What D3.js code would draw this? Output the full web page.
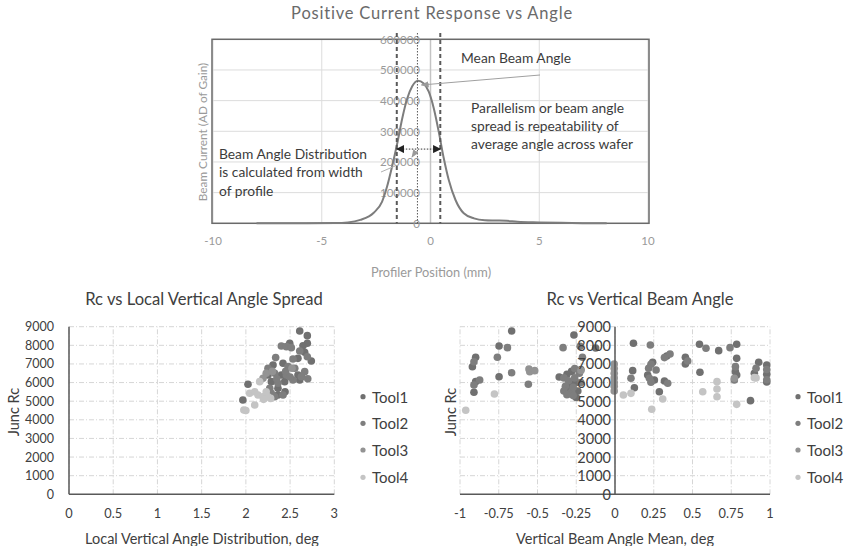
<!DOCTYPE html>
<html>
<head>
<meta charset="utf-8">
<script src="https://cdn.jsdelivr.net/npm/d3@7/dist/d3.min.js"></script>
<style>
  body { margin: 0; background: #fff; }
  svg { display: block; font-family: Lato, "Open Sans", sans-serif; }
</style>
</head>
<body>
<svg id="chart" width="851" height="546"></svg>
<script>
// ---- Beam profile (top chart) ----
const profilePos = [-8, -6, -4.4, -3.8, -3.23, -2.61, -2.23, -2.0, -1.77, -1.53, -1.3, -1.07, -0.84, -0.58, -0.31, -0.08, 0.15, 0.38, 0.61, 0.84, 1.15, 1.53, 2.0, 2.5, 3.0, 3.5, 4.0, 5.0, 6.0, 7.0, 8.1];
const profileCurrent = [0, 300, 1000, 3000, 11000, 34500, 70000, 119000, 184000, 260000, 342000, 407000, 447000, 465000, 456000, 429000, 375000, 298000, 212000, 141000, 76000, 32600, 16000, 10000, 9000, 8000, 5000, 3000, 1500, 500, 0];
const profileXTicks = [-10, -5, 0, 5, 10];
const profileYTicks = [0, 100000, 200000, 300000, 400000, 500000, 600000];
const meanAngle = -0.6;
const widthEdges = [-1.55, 0.45];
const widthLevel = 242000;

// ---- Rc vs local vertical angle spread ----
const spreadTool1 = [[2.609,8770],[2.695,8520],[2.496,8110],[2.695,8110],[2.646,7980],[2.665,7625],[2.74,7160],[2.589,7300],[2.307,6945],[2.42,7035],[2.25,6405],[2.401,6405],[2.589,6405],[2.288,6050],[2.439,6050],[2.609,6140],[2.024,5910],[2.363,5695],[2.363,5335],[2.443,5510],[1.966,5065],[2.63,6315]];
const spreadTool2 = [[2.401,7965],[2.458,7930],[2.514,7875],[2.609,7695],[2.695,7390],[2.533,7265],[2.337,7340],[2.25,6765],[2.477,6855],[2.553,6765],[2.665,6585],[2.326,6500],[2.458,6405],[2.627,6315],[2.363,5960],[2.533,6140],[2.27,5695],[2.288,5425],[2.326,5240],[2.42,5330],[2.7,6200],[2.35,6200],[2.45,6600],[2.5,6300]];
const spreadTool3 = [[2.522,6770],[2.194,6230],[2.23,6500],[2.3,6600]];
const spreadTool4 = [[2.156,6050],[2.043,5425],[2.137,5335],[2.194,5240],[2.25,5240],[2.1,5510],[2.23,5510],[2.1,4795],[1.977,4525],[2.0,4500],[2.2,5100],[2.28,5150]];
const spreadXTicks = [0, 0.5, 1, 1.5, 2, 2.5, 3];

// ---- Rc vs vertical beam angle mean ----
const meanTool1 = [[-0.667,8770],[-0.748,7965],[-0.899,7360],[-0.92,6850],[-0.748,6315],[-0.899,6050],[-0.91,5480],[-0.265,8555],[-0.125,7860],[-0.36,6300],[-0.31,6450],[-0.29,5950],[-0.3,5650],[-0.3,5400],[-0.25,5200],[-0.25,6000],[-0.28,6600],[-0.22,6700],[-0.24,5550],[0.119,8110],[0.545,8055],[0.669,7715],[0.785,8055],[0.334,7430],[0.454,7360],[0.454,7000],[0.114,6640],[0.125,5725],[0.243,7090],[0.211,6405],[0.254,6140],[0.319,6085],[0.286,5510],[0.548,6550],[0.785,7300],[0.777,6585],[0.785,6405],[0.874,5030],[0.927,7090],[0.899,6500],[0.979,6945],[0.979,6450],[0.979,6030]];
const meanTool2 = [[-0.694,7875],[-0.91,7120],[-0.759,7360],[-0.667,6530],[-0.873,6140],[-0.91,5870],[-0.335,7875],[-0.21,7360],[-0.225,7950],[-0.33,6250],[-0.3,6100],[-0.32,5800],[-0.28,5500],[-0.27,5300],[-0.27,5750],[-0.26,6250],[-0.26,6750],[-0.23,6500],[-0.33,5550],[-0.31,5350],[-0.22,6000],[-0.559,5910],[0.228,8020],[0.587,7840],[0.742,7875],[0.355,7535],[0.319,7340],[0.469,7160],[0.103,6230],[0.232,6980],[0.217,6765],[0.222,6230],[0.232,6015],[0.265,6675],[0.34,5960],[0.777,6855],[0.77,6140],[0.91,6765],[0.979,6700],[0.979,6150]];
const meanTool3 = [[-0.555,6730],[-0.55,6585],[-0.518,6640],[-0.005,7000],[-0.005,6750],[-0.005,6500],[-0.005,6250],[-0.005,6000],[-0.005,5800],[-0.005,5550],[0.77,6230],[-0.22,6650]];
const meanTool4 = [[-0.778,5385],[-0.963,4510],[0.054,5330],[0.103,5420],[0.308,5120],[0.237,4565],[0.566,5510],[0.658,6050],[0.658,5655],[0.658,5240],[0.785,4830],[0.899,6265],[0.91,6250]];
const meanXTicks = [-1, -0.75, -0.5, -0.25, 0, 0.25, 0.5, 0.75, 1];
const meanXLabels = ["-1", "-0.75", "-0.5", "-0.25", "0", "0.25", "0.5", "0.75", "1"];

const rcTicks = [0, 1000, 2000, 3000, 4000, 5000, 6000, 7000, 8000, 9000];
const toolNames = ["Tool1", "Tool2", "Tool3", "Tool4"];
const toolColors = ["#707070", "#7e7e7e", "#939393", "#c4c4c4"];

const svg = d3.select("#chart");

// ================= Top: beam profile =================
(function () {
  const x = d3.scaleLinear().domain([-10, 10]).range([213, 648]);
  const y = d3.scaleLinear().domain([0, 600000]).range([223.3, 39.3]);
  const g = svg.append("g");

  g.append("text").attr("x", 432).attr("y", 13).attr("text-anchor", "middle")
    .attr("dominant-baseline", "central").attr("font-size", 16.5).attr("fill", "#6a6a6a")
    .attr("letter-spacing", 0.8)
    .text("Positive Current Response vs Angle");

  // gridlines
  g.selectAll(".hg").data(profileYTicks).enter().append("line")
    .attr("x1", x(-10)).attr("x2", x(10)).attr("y1", d => y(d)).attr("y2", d => y(d))
    .attr("stroke", "#dcdcdc").attr("stroke-width", 1);
  g.selectAll(".vg").data(profileXTicks).enter().append("line")
    .attr("x1", d => x(d)).attr("x2", d => x(d)).attr("y1", y(0)).attr("y2", y(600000))
    .attr("stroke", d => d === 0 ? "#c4c4c4" : "#dcdcdc").attr("stroke-width", d => d === 0 ? 1.5 : 1);

  // plot border
  g.append("rect").attr("x", x(-10) - 1).attr("y", y(600000)).attr("width", x(10) - x(-10) + 2)
    .attr("height", y(0) - y(600000)).attr("fill", "none").attr("stroke", "#6a6a6a").attr("stroke-width", 1.5);

  // x tick labels
  g.selectAll(".xt").data(profileXTicks).enter().append("text")
    .attr("x", d => x(d)).attr("y", 240.5).attr("text-anchor", "middle").attr("dominant-baseline", "central")
    .attr("font-size", 11.5).attr("fill", "#9a9a9a").text(d => d);

  // y tick labels, next to the vertical axis at 0
  g.selectAll(".yt").data(profileYTicks).enter().append("text")
    .attr("x", 420).attr("y", d => y(d)).attr("text-anchor", "end").attr("dominant-baseline", "central")
    .attr("font-size", 11.5).attr("fill", "#9a9a9a").text(d => d);

  g.append("text").attr("x", 431).attr("y", 272).attr("text-anchor", "middle").attr("dominant-baseline", "central")
    .attr("font-size", 12.8).attr("fill", "#9a9a9a").text("Profiler Position (mm)");
  g.append("text").attr("transform", "translate(202,132) rotate(-90)").attr("text-anchor", "middle")
    .attr("dominant-baseline", "central").attr("font-size", 11.8).attr("fill", "#9a9a9a")
    .text("Beam Current (AD of Gain)");

  // profile curve
  const line = d3.line().x((d, i) => x(profilePos[i])).y(d => y(d)).curve(d3.curveMonotoneX);
  g.append("path").datum(profileCurrent).attr("d", line).attr("fill", "none")
    .attr("stroke", "#7d7d7d").attr("stroke-width", 2);

  // width markers and mean marker
  g.selectAll(".edge").data(widthEdges).enter().append("line")
    .attr("x1", d => x(d)).attr("x2", d => x(d)).attr("y1", 33).attr("y2", y(0))
    .attr("stroke", "#5a5a5a").attr("stroke-width", 2).attr("stroke-dasharray", "4,3");
  g.append("line").attr("x1", x(meanAngle)).attr("x2", x(meanAngle)).attr("y1", 33).attr("y2", y(0))
    .attr("stroke", "#5a5a5a").attr("stroke-width", 1).attr("stroke-dasharray", "1.5,1.5");

  const defs = svg.append("defs");
  defs.append("marker").attr("id", "blk").attr("viewBox", "0 0 10 10").attr("refX", 9).attr("refY", 5)
    .attr("markerWidth", 8).attr("markerHeight", 8).attr("markerUnits", "userSpaceOnUse").attr("orient", "auto-start-reverse")
    .append("path").attr("d", "M0,0 L10,5 L0,10 Z").attr("fill", "#222");
  defs.append("marker").attr("id", "gry").attr("viewBox", "0 0 10 10").attr("refX", 9).attr("refY", 5)
    .attr("markerWidth", 8).attr("markerHeight", 8).attr("markerUnits", "userSpaceOnUse").attr("orient", "auto")
    .append("path").attr("d", "M0,1 L10,5 L0,9 Z").attr("fill", "#9a9a9a");

  // double arrow across the profile width
  g.append("line").attr("x1", x(widthEdges[0])).attr("x2", x(widthEdges[1]))
    .attr("y1", y(widthLevel)).attr("y2", y(widthLevel))
    .attr("stroke", "#333").attr("stroke-width", 1).attr("stroke-dasharray", "1.5,1.5")
    .attr("marker-start", "url(#blk)").attr("marker-end", "url(#blk)");

  // callout arrows
  g.append("line").attr("x1", 540).attr("y1", 75).attr("x2", x(meanAngle) + 4).attr("y2", 85)
    .attr("stroke", "#a0a0a0").attr("stroke-width", 1).attr("marker-end", "url(#gry)");
  g.append("line").attr("x1", 381).attr("y1", 172).attr("x2", 395).attr("y2", 166)
    .attr("stroke", "#b0b0b0").attr("stroke-width", 1);
  g.append("line").attr("x1", 416).attr("y1", 151).attr("x2", 412).attr("y2", 157)
    .attr("stroke", "#a0a0a0").attr("stroke-width", 1).attr("marker-end", "url(#gry)");

  // annotations
  const note = (lines, x0, y0) => lines.forEach((t, i) =>
    g.append("text").attr("x", x0).attr("y", y0 + i * 18.3).attr("dominant-baseline", "central")
      .attr("font-size", 13.8).attr("fill", "#3c3c3c").text(t));
  note(["Mean Beam Angle"], 461, 57);
  note(["Parallelism or beam angle", "spread is repeatability of", "average angle across wafer"], 471, 107);
  note(["Beam Angle Distribution", "is calculated from width", "of profile"], 219, 153.5);
})();

// ================= Bottom scatter charts =================
function scatter(opts) {
  const x = d3.scaleLinear().domain(opts.xDomain).range(opts.xRange);
  const y = d3.scaleLinear().domain([0, 9000]).range([494.3, 326.7]);
  const g = svg.append("g");

  g.append("text").attr("x", opts.titleX).attr("y", 299).attr("text-anchor", "middle")
    .attr("dominant-baseline", "central").attr("font-size", 16.6).attr("fill", "#404040").text(opts.title);

  // dashed gridlines
  g.selectAll(".hg").data(rcTicks.slice(1)).enter().append("line")
    .attr("x1", x(opts.xDomain[0])).attr("x2", x(opts.xDomain[1])).attr("y1", d => y(d)).attr("y2", d => y(d))
    .attr("stroke", "#d6d6d6").attr("stroke-dasharray", "5,2,1,2");
  g.selectAll(".vg").data(opts.xTicks).enter().append("line")
    .attr("x1", d => x(d)).attr("x2", d => x(d)).attr("y1", y(0)).attr("y2", y(9000))
    .attr("stroke", "#d6d6d6").attr("stroke-dasharray", "5,2,1,2");

  // points
  opts.series.forEach((pts, i) => {
    g.selectAll(".p" + i).data(pts).enter().append("circle")
      .attr("cx", d => x(d[0])).attr("cy", d => y(d[1])).attr("r", 3.8)
      .attr("fill", toolColors[i]);
  });

  // axes
  const ax = opts.yAxisAt;
  g.append("line").attr("x1", x(opts.xDomain[0])).attr("x2", x(opts.xDomain[1])).attr("y1", y(0)).attr("y2", y(0))
    .attr("stroke", "#595959").attr("stroke-width", 1.5);
  g.append("line").attr("x1", x(ax)).attr("x2", x(ax)).attr("y1", y(0)).attr("y2", y(9000))
    .attr("stroke", "#595959").attr("stroke-width", 1.5);

  // tick labels
  g.selectAll(".yt").data(rcTicks).enter().append("text")
    .attr("x", x(ax) - opts.yLabelGap).attr("y", d => y(d)).attr("text-anchor", "end").attr("dominant-baseline", "central")
    .attr("font-size", opts.yLabelSize).attr("fill", "#404040").text(d => d);
  g.selectAll(".xt").data(opts.xTicks).enter().append("text")
    .attr("x", d => x(d)).attr("y", 513).attr("text-anchor", "middle").attr("dominant-baseline", "central")
    .attr("font-size", 12.8).attr("fill", "#404040").text((d, i) => opts.xLabels[i]);

  // axis titles
  g.append("text").attr("x", opts.xTitleX).attr("y", 538).attr("text-anchor", "middle")
    .attr("dominant-baseline", "central").attr("font-size", 14.5).attr("fill", "#404040").text(opts.xTitle);
  g.append("text").attr("transform", `translate(${opts.yTitleX},412) rotate(-90)`).attr("text-anchor", "middle")
    .attr("dominant-baseline", "central").attr("font-size", 14.5).attr("fill", "#404040").text("Junc Rc");

  // legend
  const ly = [396.7, 423.3, 450, 477.3];
  toolNames.forEach((name, i) => {
    g.append("circle").attr("cx", opts.legendX).attr("cy", ly[i]).attr("r", 2.6).attr("fill", toolColors[i]);
    g.append("text").attr("x", opts.legendX + 9).attr("y", ly[i]).attr("dominant-baseline", "central")
      .attr("font-size", 15).attr("fill", "#404040").text(name);
  });
}

scatter({
  title: "Rc vs Local Vertical Angle Spread", titleX: 204,
  xDomain: [0, 3], xRange: [69, 334.3], xTicks: spreadXTicks, xLabels: spreadXTicks.map(String),
  yAxisAt: 0, yLabelGap: 15, yLabelSize: 12.5,
  xTitle: "Local Vertical Angle Distribution, deg", xTitleX: 202, yTitleX: 13,
  legendX: 363, series: [spreadTool1, spreadTool2, spreadTool3, spreadTool4]
});

scatter({
  title: "Rc vs Vertical Beam Angle", titleX: 640,
  xDomain: [-1, 1], xRange: [460, 770], xTicks: meanXTicks, xLabels: meanXLabels,
  yAxisAt: 0, yLabelGap: 4, yLabelSize: 14.5,
  xTitle: "Vertical Beam Angle Mean, deg", xTitleX: 615, yTitleX: 450,
  legendX: 798, series: [meanTool1, meanTool2, meanTool3, meanTool4]
});
</script>
</body>
</html>
